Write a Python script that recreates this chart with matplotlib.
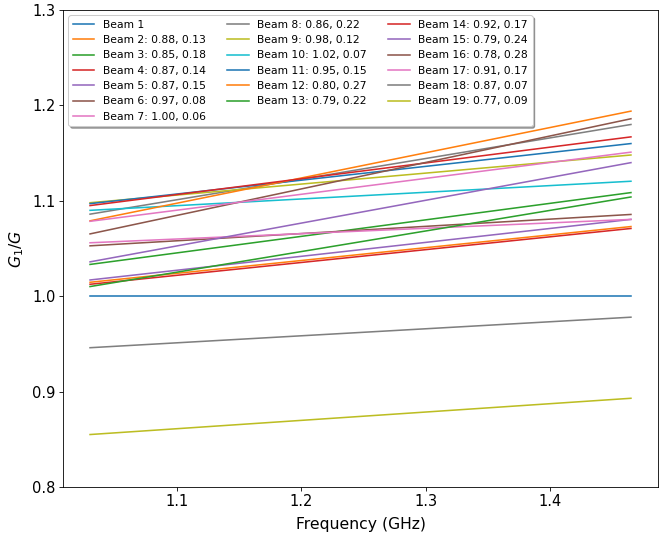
import matplotlib
matplotlib.use("Agg")
import matplotlib.pyplot as plt

# Frequency endpoints (GHz)
freq = [1.03, 1.465]

beam_labels = [
    "Beam 1",
    "Beam 2: 0.88, 0.13",
    "Beam 3: 0.85, 0.18",
    "Beam 4: 0.87, 0.14",
    "Beam 5: 0.87, 0.15",
    "Beam 6: 0.97, 0.08",
    "Beam 7: 1.00, 0.06",
    "Beam 8: 0.86, 0.22",
    "Beam 9: 0.98, 0.12",
    "Beam 10: 1.02, 0.07",
    "Beam 11: 0.95, 0.15",
    "Beam 12: 0.80, 0.27",
    "Beam 13: 0.79, 0.22",
    "Beam 14: 0.92, 0.17",
    "Beam 15: 0.79, 0.24",
    "Beam 16: 0.78, 0.28",
    "Beam 17: 0.91, 0.17",
    "Beam 18: 0.87, 0.07",
    "Beam 19: 0.77, 0.09",
]

# G1/G at the low and high frequency ends
ratio_start = [1.000, 1.0146, 1.0333, 1.0125, 1.017, 1.0528, 1.056, 1.086, 1.098,
               1.090, 1.097, 1.079, 1.0101, 1.095, 1.036, 1.0653, 1.0785, 0.946, 0.855]
ratio_end = [1.000, 1.073, 1.1086, 1.071, 1.0805, 1.0857, 1.0805, 1.180, 1.148,
             1.1205, 1.160, 1.194, 1.104, 1.167, 1.140, 1.186, 1.151, 0.978, 0.893]

x_ticks = [1.1, 1.2, 1.3, 1.4]
y_ticks = [0.8, 0.9, 1.0, 1.1, 1.2, 1.3]

DPI = 75
fig = plt.figure(figsize=(664 / DPI, 538 / DPI), dpi=DPI)
ax = fig.add_axes([63 / 664, 1 - 487 / 538, (658 - 63) / 664, (487 - 10) / 538])

for lab, s, e in zip(beam_labels, ratio_start, ratio_end):
    ax.plot(freq, [s, e], label=lab, lw=1.5)

ax.set_ylim(0.8, 1.3)
ax.set_xticks(x_ticks)
ax.set_xticklabels([f"{t:.1f}" for t in x_ticks])
ax.set_yticks(y_ticks)
ax.set_yticklabels([f"{t:.1f}" for t in y_ticks])
ax.tick_params(labelsize=14)
ax.set_xlabel("Frequency (GHz)", fontsize=15, labelpad=7)
ax.set_ylabel("$G_1/G$", fontsize=15, labelpad=6)

ax.legend(loc="upper left", ncol=3, fontsize=10.3, shadow=True)

fig.savefig("out.png", dpi=DPI)
